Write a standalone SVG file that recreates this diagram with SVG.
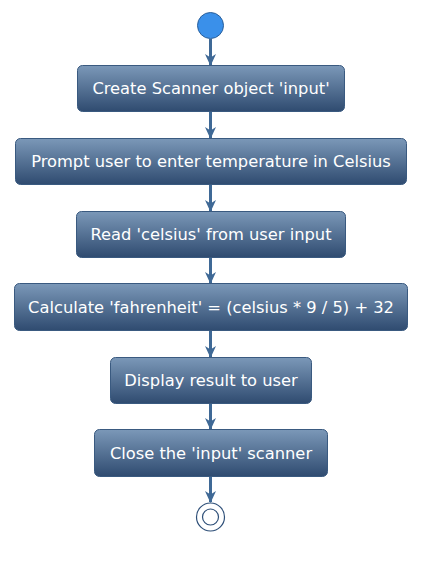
<svg xmlns="http://www.w3.org/2000/svg" width="421" height="584" viewBox="0 0 421 584">
<defs>
<linearGradient id="g" x1="0" y1="0" x2="0" y2="1">
<stop offset="0" stop-color="#7b98b8"/>
<stop offset="1" stop-color="#2f4b70"/>
</linearGradient>
<marker id="ah" viewBox="0 0 12 12" refX="11" refY="6" markerWidth="12" markerHeight="12" markerUnits="userSpaceOnUse" orient="auto">
<path d="M0,0.5 L12,6 L0,11.5 L3.5,6 Z" fill="#3f6996"/>
</marker>
<style>
.box{fill:url(#g);stroke:#3a5a80;stroke-width:1}
.t{font-family:"DejaVu Sans",Verdana,sans-serif;font-size:16.3px;fill:#ffffff;text-anchor:middle;dominant-baseline:central}
.c{stroke:#3f6996;stroke-width:3;fill:none;marker-end:url(#ah)}
</style>
</defs>
<rect width="421" height="584" fill="#ffffff"/>
<g id="connectors">
<line class="c" x1="210.5" y1="39" x2="210.5" y2="65"/>
<line class="c" x1="210.5" y1="112" x2="210.5" y2="138"/>
<line class="c" x1="210.5" y1="185" x2="210.5" y2="211"/>
<line class="c" x1="210.5" y1="258" x2="210.5" y2="283"/>
<line class="c" x1="210.5" y1="331" x2="210.5" y2="357"/>
<line class="c" x1="210.5" y1="403" x2="210.5" y2="429"/>
<line class="c" x1="210.5" y1="477" x2="210.5" y2="502"/>
</g>
<g id="start"><circle cx="210.5" cy="25.5" r="13" fill="#3a90ea" stroke="#2a5f9a" stroke-width="1"/></g>
<g id="n1"><rect class="box" x="77.5" y="65.5" width="267" height="46" rx="5"/><text class="t" x="211" y="88.5">Create Scanner object 'input'</text></g>
<g id="n2"><rect class="box" x="15.5" y="138.5" width="391" height="46" rx="5"/><text class="t" x="211" y="161.5">Prompt user to enter temperature in Celsius</text></g>
<g id="n3"><rect class="box" x="76.5" y="211.5" width="269" height="46" rx="5"/><text class="t" x="211" y="234.5">Read 'celsius' from user input</text></g>
<g id="n4"><rect class="box" x="14.5" y="283.5" width="393" height="47" rx="5"/><text class="t" x="211" y="307">Calculate 'fahrenheit' = (celsius * 9 / 5) + 32</text></g>
<g id="n5"><rect class="box" x="110.5" y="357.5" width="201" height="46" rx="5"/><text class="t" x="211" y="380.5">Display result to user</text></g>
<g id="n6"><rect class="box" x="94.5" y="429.5" width="233" height="47" rx="5"/><text class="t" x="211" y="453">Close the 'input' scanner</text></g>
<g id="end"><circle cx="210.5" cy="517" r="14" fill="#ffffff" stroke="#2e4f78" stroke-width="1.2"/><circle cx="210.5" cy="517" r="8" fill="#ffffff" stroke="#2e4f78" stroke-width="1.2"/></g>
</svg>
